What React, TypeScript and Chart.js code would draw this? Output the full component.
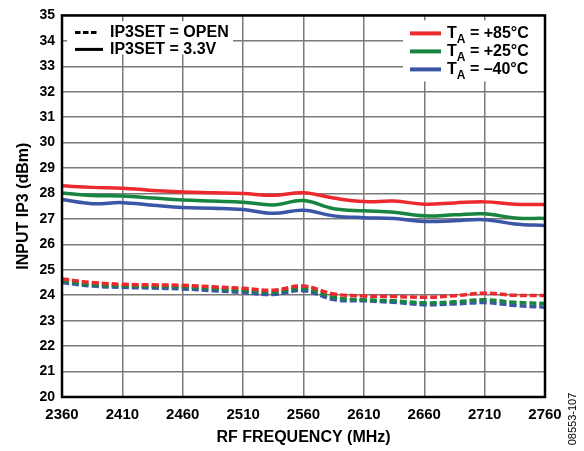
import React, { useEffect, useRef } from "react";
import { Chart, registerables } from "chart.js";
Chart.register(...registerables);

const FONT = '"Liberation Sans", Arial, Helvetica, sans-serif';

const freqs = [2360, 2385, 2410, 2435, 2460, 2485, 2510, 2535, 2560, 2585, 2610, 2635, 2660, 2685, 2710, 2735, 2760];

const red33 = [28.30, 28.24, 28.21, 28.12, 28.06, 28.03, 28.00, 27.93, 28.03, 27.82, 27.68, 27.70, 27.58, 27.63, 27.67, 27.58, 27.57];
const green33 = [28.02, 27.92, 27.90, 27.82, 27.74, 27.70, 27.66, 27.55, 27.72, 27.40, 27.32, 27.26, 27.12, 27.16, 27.20, 27.04, 27.02];
const blue33 = [27.76, 27.60, 27.64, 27.54, 27.45, 27.42, 27.37, 27.22, 27.34, 27.12, 27.05, 27.02, 26.90, 26.93, 26.97, 26.80, 26.74];
const redOpen = [24.64, 24.50, 24.43, 24.41, 24.39, 24.33, 24.27, 24.20, 24.36, 24.05, 23.97, 23.95, 23.92, 23.98, 24.08, 24.00, 23.99];
const greenOpen = [24.57, 24.42, 24.37, 24.35, 24.33, 24.26, 24.20, 24.12, 24.27, 23.92, 23.82, 23.78, 23.70, 23.74, 23.82, 23.72, 23.68];
const blueOpen = [24.50, 24.36, 24.31, 24.28, 24.25, 24.18, 24.11, 24.03, 24.18, 23.83, 23.78, 23.72, 23.63, 23.66, 23.71, 23.60, 23.53];

const styleLabels = ["IP3SET = OPEN", "IP3SET = 3.3V"];
const tempLabels = [" = +85°C", " = +25°C", " = \u201340°C"];
const tempColors = ["#ec2a2e", "#178440", "#3a56a5"];

const xTitle = "RF FREQUENCY (MHz)";
const yTitle = "INPUT IP3 (dBm)";
const figId = "08553-107";

const pts = (ys: number[]) => freqs.map((x, i) => ({ x, y: ys[i] }));

const DASH = [7, 3];

export default function App() {
  const ref = useRef<HTMLCanvasElement>(null);
  useEffect(() => {
    document.body.style.margin = "0";
    const canvas = ref.current!;
    const overlay = {
      id: "overlay",
      afterDatasetsDraw(chart: any) {
        const { ctx, chartArea: a } = chart;
        ctx.save();
        // left legend
        const lx = a.left + 5, ly = a.top + 6;
        ctx.fillStyle = "#fff";
        ctx.fillRect(lx, ly, 166, 33);
        ctx.strokeStyle = "#000";
        ctx.lineWidth = 3;
        ctx.setLineDash([5.5, 2.5]);
        ctx.beginPath();
        ctx.moveTo(lx + 8, ly + 11);
        ctx.lineTo(lx + 31, ly + 11);
        ctx.stroke();
        ctx.setLineDash([]);
        ctx.beginPath();
        ctx.moveTo(lx + 8, ly + 28);
        ctx.lineTo(lx + 36, ly + 28);
        ctx.stroke();
        ctx.fillStyle = "#000";
        ctx.font = `bold 16px ${FONT}`;
        ctx.textBaseline = "middle";
        ctx.textAlign = "left";
        ctx.fillText(styleLabels[0], lx + 43, ly + 11);
        ctx.fillText(styleLabels[1], lx + 43, ly + 28);

        // right legend
        const rx = a.right - 142, ry = a.top + 5;
        ctx.fillStyle = "#fff";
        ctx.fillRect(rx, ry, 142, 61);
        for (let i = 0; i < 3; i++) {
          const y = ry + 13 + i * 18;
          ctx.strokeStyle = tempColors[i];
          ctx.lineWidth = 4;
          ctx.beginPath();
          ctx.moveTo(rx + 7, y);
          ctx.lineTo(rx + 38, y);
          ctx.stroke();
          ctx.fillStyle = "#000";
          ctx.font = `bold 16px ${FONT}`;
          ctx.textBaseline = "middle";
          let tx = rx + 44;
          ctx.fillText("T", tx, y);
          tx += ctx.measureText("T").width;
          ctx.font = `bold 12px ${FONT}`;
          ctx.fillText("A", tx, y + 6);
          tx += ctx.measureText("A").width;
          ctx.font = `bold 16px ${FONT}`;
          ctx.fillText(tempLabels[i], tx, y);
        }
        ctx.restore();
      },
      afterDraw(chart: any) {
        const { ctx, chartArea: a } = chart;
        ctx.save();
        ctx.strokeStyle = "#000";
        ctx.lineWidth = 2.5;
        ctx.strokeRect(a.left, a.top, a.right - a.left, a.bottom - a.top);
        ctx.translate(573, 419);
        ctx.rotate(-Math.PI / 2);
        ctx.font = `11px ${FONT}`;
        ctx.fillStyle = "#000";
        ctx.textAlign = "center";
        ctx.textBaseline = "middle";
        ctx.fillText(figId, 0, 0);
        ctx.restore();
      },
    };

    const mk = (data: number[], color: string, dashed: boolean, order: number) => ({
      data: pts(data),
      borderColor: color,
      backgroundColor: color,
      borderWidth: 3.5,
      borderDash: dashed ? DASH : [],
      pointRadius: 0,
      tension: 0.4,
      fill: false,
      order,
    });

    const chart = new Chart(canvas, {
      type: "line",
      data: {
        datasets: [
          mk(blueOpen, tempColors[2], true, 6),
          mk(greenOpen, tempColors[1], true, 5),
          mk(redOpen, tempColors[0], true, 4),
          mk(blue33, tempColors[2], false, 3),
          mk(green33, tempColors[1], false, 2),
          mk(red33, tempColors[0], false, 1),
        ],
      },
      options: {
        responsive: false,
        animation: false,
        layout: { padding: { top: 15, right: 39, left: 0, bottom: 0 } },
        plugins: { legend: { display: false }, tooltip: { enabled: false } },
        scales: {
          x: {
            type: "linear",
            min: 2360,
            max: 2760,
            afterFit: (s: any) => { s.height = 54; },
            ticks: { stepSize: 50, color: "#000", font: { family: FONT, size: 15, weight: "bold" }, padding: 9, maxRotation: 0, callback: (v: any) => String(v) },
            grid: { color: "#7a7a7a", lineWidth: 1.5, drawTicks: false },
            border: { display: false },
            title: { display: true, text: xTitle, color: "#000", font: { family: FONT, size: 16, weight: "bold" }, padding: { top: 0, bottom: 3.5 } },
          },
          y: {
            min: 20,
            max: 35,
            afterFit: (s: any) => { s.width = 62; },
            ticks: { stepSize: 1, color: "#000", font: { family: FONT, size: 14, weight: "bold" }, padding: 7, callback: (v: any) => String(v) },
            grid: { color: "#7a7a7a", lineWidth: 1.5, drawTicks: false },
            border: { display: false },
            title: { display: true, text: yTitle, color: "#000", font: { family: FONT, size: 16, weight: "bold" }, padding: { top: 14, bottom: 0 } },
          },
        },
      },
      plugins: [overlay],
    } as any);
    return () => chart.destroy();
  }, []);
  return (
    <div style={{ width: 584, height: 451 }}>
      <canvas ref={ref} width={584} height={451} style={{ width: 584, height: 451, display: "block" }} />
    </div>
  );
}
